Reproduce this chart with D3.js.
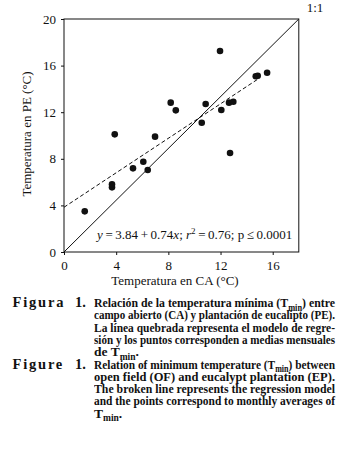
<!DOCTYPE html>
<html>
<head>
<meta charset="utf-8">
<script src="https://cdn.jsdelivr.net/npm/d3@7"></script>
<style>
  body { margin: 0; background: #fff; position: relative; }
  svg { display: block; }
  text { font-family: "Liberation Serif", "DejaVu Serif", serif; fill: #111; }
  .capline {
    position: absolute;
    font-family: "Liberation Serif", serif;
    font-weight: bold;
    font-size: 13.5px;
    line-height: 13px;
    color: #111;
    white-space: nowrap;
    transform-origin: 0 0;
  }
  .capline .sub { font-size: 9.5px; position: relative; top: 3.5px; }
</style>
</head>
<body>
<svg id="chart"></svg>
<script>
const width = 345
const height = 471

// data
const caTemp = [1.59, 3.68, 3.68, 3.89, 5.29, 6.08, 6.42, 6.98, 8.18, 8.57,
                10.56, 10.86, 11.96, 12.06, 12.65, 12.73, 12.98, 14.7, 14.85, 15.57]
const peTemp = [3.49, 5.55, 5.81, 10.1, 7.18, 7.75, 7.04, 9.9, 12.82, 12.16,
                11.1, 12.7, 17.25, 12.19, 12.82, 8.5, 12.9, 15.08, 15.13, 15.39]
const xTicks = [0, 4, 8, 12, 16]
const yTicks = [0, 4, 8, 12, 16, 20]
const regLine = [[0, 3.84], [15, 14.94]]
const identLine = [[0, 0], [18, 20]]

const captionEs = [
    [["Relación de la temperatura mínima (T"], ["min", "sub"], [") entre"]],
    [["campo abierto (CA) y plantación de eucalipto (PE)."]],
    [["La línea quebrada representa el modelo de regre-"]],
    [["sión y los puntos corresponden a medias mensuales"]],
    [["de T"], ["min", "sub"], ["."]]
]
const captionEn = [
    [["Relation of minimum temperature (T"], ["min", "sub"], [") between"]],
    [["open field (OF) and eucalypt plantation (EP)."]],
    [["The broken line represents the regression model"]],
    [["and the points correspond to monthly averages of"]],
    [["T"], ["min", "sub"], ["."]]
]

let svg = d3.select("#chart")
    .attr("width", width)
    .attr("height", height)

let x = d3.scaleLinear().domain([0, 18]).range([64, 298.8])
let y = d3.scaleLinear().domain([0, 20]).range([252, 19])

// axes
svg.append("g")
    .attr("transform", "translate(0," + y(0) + ")")
    .call(d3.axisBottom(x).tickValues(xTicks).tickSize(3).tickSizeOuter(0).tickPadding(6))
svg.append("g")
    .attr("transform", "translate(" + x(0) + ",0)")
    .call(d3.axisLeft(y).tickValues(yTicks).tickSize(3).tickSizeOuter(0).tickPadding(5))

svg.selectAll(".domain").remove()
svg.selectAll(".tick line").attr("stroke", "#111")
svg.selectAll(".tick text")
    .attr("font-family", "Liberation Serif")
    .attr("font-size", 13)
    .attr("fill", "#111")

// frame
svg.append("rect")
    .attr("x", x(0))
    .attr("y", y(20))
    .attr("width", x(18) - x(0))
    .attr("height", y(0) - y(20))
    .attr("fill", "none")
    .attr("stroke", "#111")
    .attr("stroke-width", 1)

let line = d3.line().x(d => x(d[0])).y(d => y(d[1]))

svg.append("path")
    .attr("d", line(identLine))
    .attr("fill", "none")
    .attr("stroke", "#111")
    .attr("stroke-width", 1)

svg.append("path")
    .attr("d", line(regLine))
    .attr("fill", "none")
    .attr("stroke", "#111")
    .attr("stroke-width", 1)
    .attr("stroke-dasharray", "4,2.5")

svg.append("g")
    .selectAll("circle")
    .data(caTemp)
    .enter()
    .append("circle")
    .attr("cx", d => x(d))
    .attr("cy", (d, i) => y(peTemp[i]))
    .attr("r", 3.3)
    .attr("fill", "#111")

svg.append("text")
    .attr("x", 315)
    .attr("y", 12)
    .attr("text-anchor", "middle")
    .attr("font-size", 13)
    .text("1:1")

// axis titles
svg.append("text")
    .attr("x", 175)
    .attr("y", 285)
    .attr("text-anchor", "middle")
    .attr("font-size", 13)
    .text("Temperatura en CA (°C)")

svg.append("text")
    .attr("transform", "translate(31,134) rotate(-90)")
    .attr("text-anchor", "middle")
    .attr("font-size", 13)
    .text("Temperatura en PE (°C)")

// regression equation (thin spaces round the signs)
let eq = svg.append("text")
    .attr("x", 97)
    .attr("y", 238.5)
    .attr("font-size", 13)
eq.append("tspan").attr("font-style", "italic").text("y")
eq.append("tspan").text("\u2009=\u20093.84\u2009+\u20090.74")
eq.append("tspan").attr("font-style", "italic").text("x")
eq.append("tspan").text("; ")
eq.append("tspan").attr("font-style", "italic").text("r")
eq.append("tspan").attr("font-size", 9).attr("dy", -5).text("2")
eq.append("tspan").attr("dy", 5).text("\u2009=\u20090.76; p\u2009≤\u20090.0001")

// caption lines as html; justified with word-spacing or squeezed with scaleX
const colX = 94
const colW = 241
const lineStep = 12.3

function captionLine(parts, yb, justify) {
    let div = d3.select("body").append("div")
        .attr("class", "capline")
        .style("left", colX + "px")
        .style("top", (yb - 11) + "px")
    let inner = div.append("span")
    parts.forEach(p => {
        let s = inner.append("span").text(p[0])
        if (p[1] == "sub") s.attr("class", "sub")
    })
    if (!justify) return
    let natural = inner.node().getBoundingClientRect().width
    let gaps = parts.map(p => p[0]).join("").split(" ").length - 1
    if (natural > colW) {
        div.style("transform", "scaleX(" + (colW / natural) + ")")
    } else if (gaps > 0) {
        inner.style("word-spacing", ((colW - natural) / gaps) + "px")
    }
}

function caption(label, num, lines, yb) {
    svg.append("text")
        .attr("x", 12.5)
        .attr("y", yb)
        .attr("font-size", 14.5)
        .attr("font-weight", "bold")
        .style("letter-spacing", "1.8px")
        .text(label)
    svg.append("text")
        .attr("x", 75)
        .attr("y", yb)
        .attr("font-size", 14.5)
        .attr("font-weight", "bold")
        .text(num)
    lines.forEach((l, i) => {
        captionLine(l, yb + i * lineStep, i < lines.length - 1)
    })
}

caption("Figura", "1.", captionEs, 307)
caption("Figure", "1.", captionEn, 368.5)
</script>
</body>
</html>
